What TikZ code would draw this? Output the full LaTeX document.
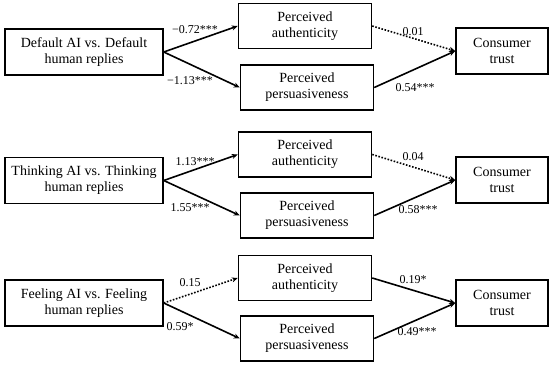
\documentclass[tikz,border=0pt]{standalone}
\usepackage{fontspec}
\setmainfont{Liberation Serif}
\usetikzlibrary{arrows.meta}

\begin{document}
\begin{tikzpicture}[
  x=1pt, y=-1pt,
  every node/.style={font=\fontsize{14}{16}\selectfont},
  src/.style={rectangle, draw=black, line width=1.5pt, minimum width=158pt, minimum height=46pt, align=center, inner sep=2pt},
  med/.style={rectangle, draw=black, line width=1.5pt, minimum width=133pt, minimum height=45pt, align=center, inner sep=2pt},
  trustbox/.style={rectangle, draw=black, line width=1.5pt, minimum width=92pt, minimum height=46pt, align=center, inner sep=2pt},
  lab/.style={font=\fontsize{12}{14}\selectfont, inner sep=1pt},
  every path/.style={>={Stealth[length=6pt,width=5pt]}, line width=1.6pt},
  ns/.style={dash pattern=on 1.6pt off 1.6pt}
]
\useasboundingbox (0,0) rectangle (550,365);

% default replies
\node[src] (src1) at (84, 52) {Default AI vs. Default\\human replies};
\node[med] (auth1) at (305, 26) {Perceived\\authenticity};
\node[med] (pers1) at (307, 87.5) {Perceived\\persuasiveness};
\node[trustbox] (trust1) at (502, 51) {Consumer\\trust};

% thinking replies
\node[src] (src2) at (84, 180.5) {Thinking AI vs. Thinking\\human replies};
\node[med] (auth2) at (305, 154.5) {Perceived\\authenticity};
\node[med] (pers2) at (307, 215.5) {Perceived\\persuasiveness};
\node[trustbox] (trust2) at (502, 180) {Consumer\\trust};

% feeling replies
\node[src] (src3) at (84, 303) {Feeling AI vs. Feeling\\human replies};
\node[med] (auth3) at (305, 278) {Perceived\\authenticity};
\node[med] (pers3) at (307, 338.5) {Perceived\\persuasiveness};
\node[trustbox] (trust3) at (502, 303) {Consumer\\trust};

\draw[->] (src1.east) -- (auth1.west);
\draw[->] (src1.east) -- (pers1.west);
\draw[->, ns] (auth1.east) -- (trust1.west);
\draw[->] (pers1.east) -- (trust1.west);

\draw[->] (src2.east) -- (auth2.west);
\draw[->] (src2.east) -- (pers2.west);
\draw[->, ns] (auth2.east) -- (trust2.west);
\draw[->] (pers2.east) -- (trust2.west);

\draw[->, ns] (src3.east) -- (auth3.west);
\draw[->] (src3.east) -- (pers3.west);
\draw[->] (auth3.east) -- (trust3.west);
\draw[->] (pers3.east) -- (trust3.west);

% path coefficients
\node[lab] (c1a) at (195, 30) {−0.72***};
\node[lab] (c1b) at (190, 81) {−1.13***};
\node[lab] (c1c) at (413, 32) {0.01};
\node[lab] (c1d) at (415, 88) {0.54***};

\node[lab] (c2a) at (195, 162) {1.13***};
\node[lab] (c2b) at (190, 208) {1.55***};
\node[lab] (c2c) at (413, 157) {0.04};
\node[lab] (c2d) at (418, 210) {0.58***};

\node[lab] (c3a) at (190, 283) {0.15};
\node[lab] (c3b) at (180, 327) {0.59*};
\node[lab] (c3c) at (413, 280) {0.19*};
\node[lab] (c3d) at (417, 332) {0.49***};
\end{tikzpicture}
\end{document}
